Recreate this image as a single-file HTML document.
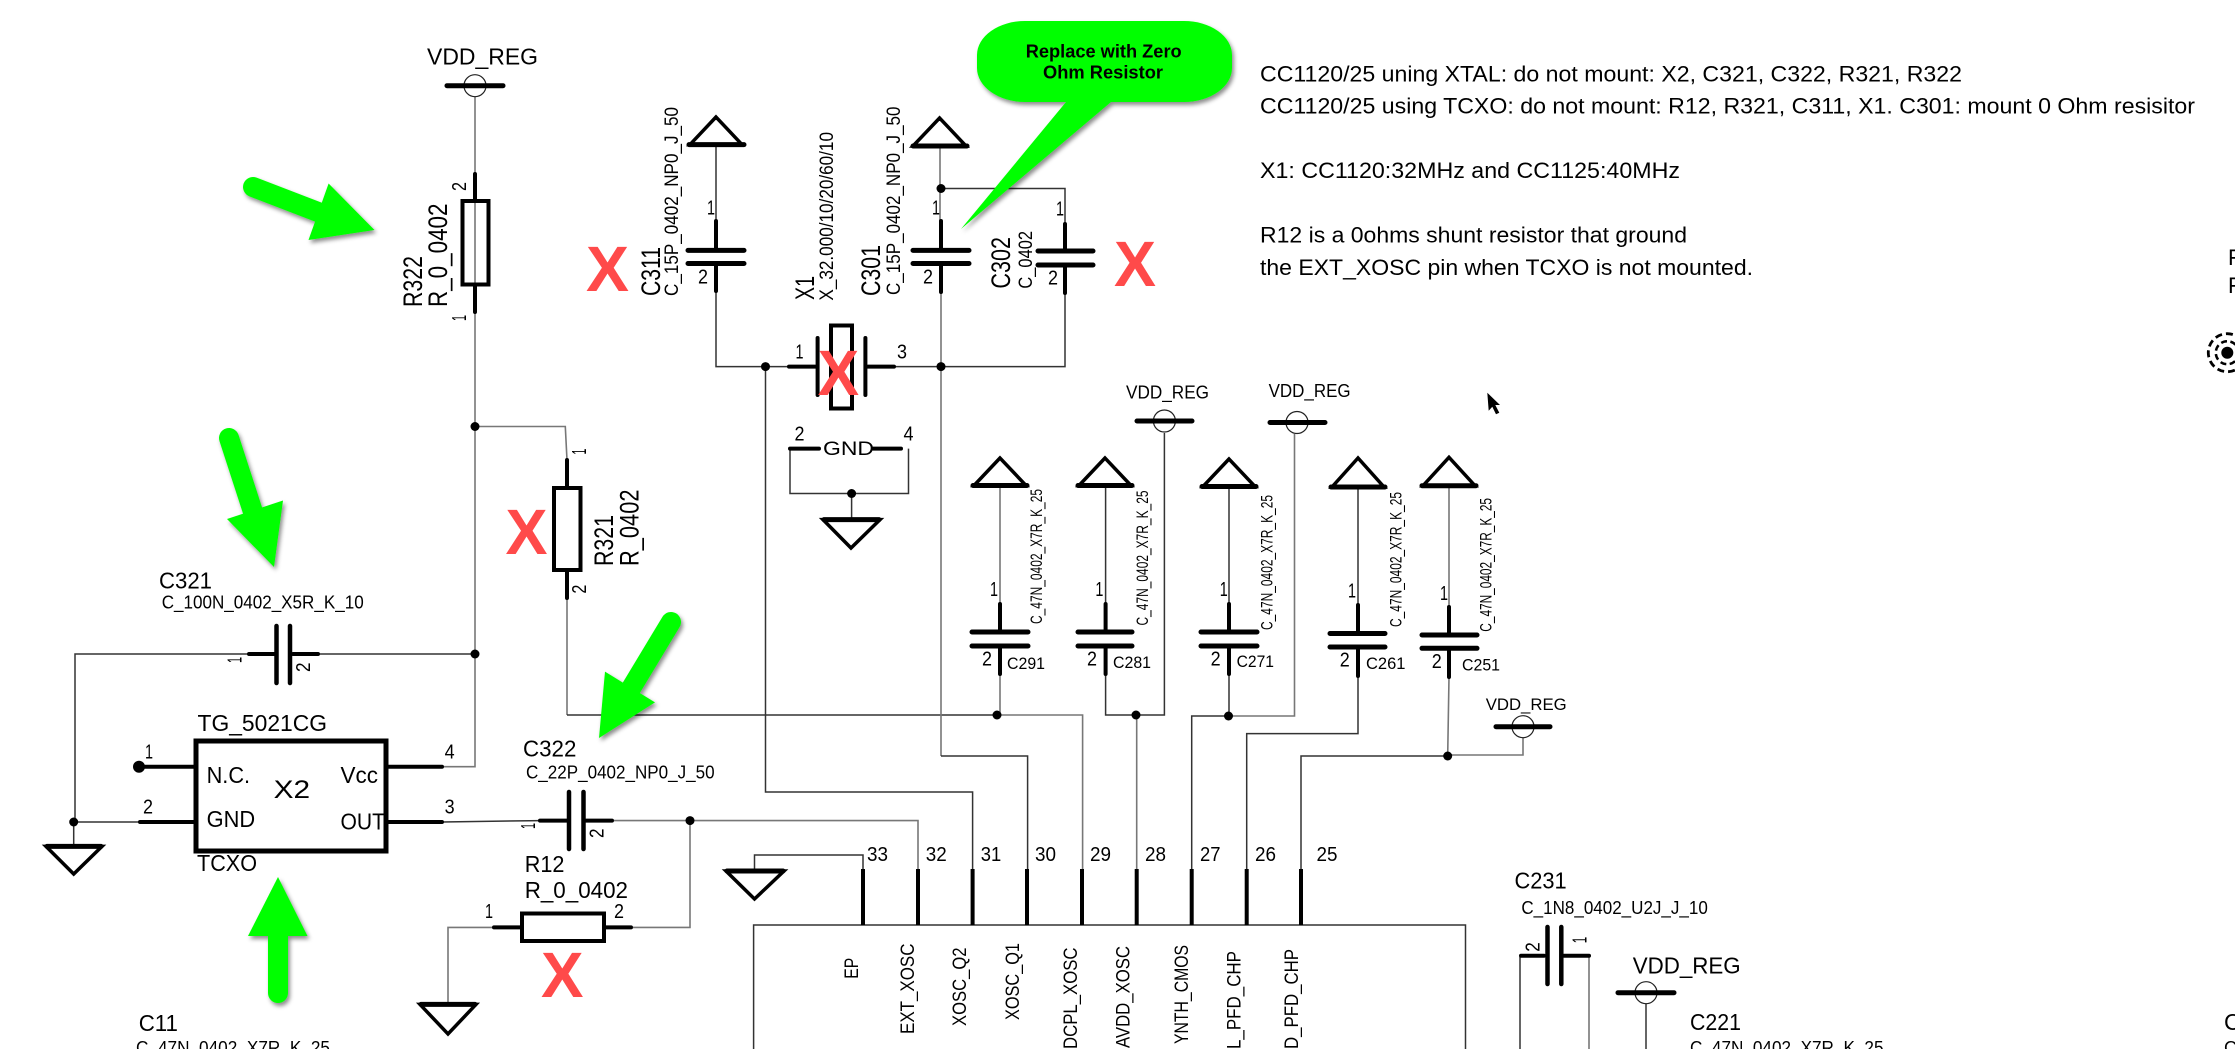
<!DOCTYPE html>
<html><head><meta charset="utf-8"><style>
html,body{margin:0;padding:0;background:#fff;width:2235px;height:1049px;overflow:hidden}
svg{display:block}
text{font-family:"Liberation Sans",Arial,sans-serif;fill:#000}
.w{stroke:#333;stroke-width:1.5;fill:none}
.g{stroke:#777;stroke-width:1.6;fill:none}
.t{stroke:#000;stroke-width:4;fill:none;stroke-linecap:round}
.p{stroke:#000;stroke-width:5;fill:none;stroke-linecap:round}
.s{stroke:#000;stroke-width:3.5;fill:none;stroke-linejoin:miter}
.o{stroke:#222;stroke-width:1.2;fill:none}
.x text{font-weight:bold;font-size:64px;fill:#ff4a4a}
.n{font-size:20px}
.m{font-size:19.5px}
.l{font-size:27px}
</style></head><body>
<svg width="2235" height="1049" viewBox="0 0 2235 1049" xmlns="http://www.w3.org/2000/svg" style="overflow:hidden">
<rect width="2235" height="1049" fill="#fff"/>

<!-- wires -->
<path class="g" d="M475 97V766.7H442"/>
<path class="g" d="M475 426.5H565.3L567 460"/>
<path class="w" d="M475 654H318M248 654H75V822"/>
<path class="w" d="M139 822H73.7V846M442 822L540 820.6"/>
<path class="g" d="M612 820.6H918V869"/>
<path class="g" d="M690 820.6V927.4H632"/>
<path class="g" d="M493 927.4H448V1004"/>
<path class="g" d="M567 599V715"/>
<path class="w" d="M567 715H997"/>
<path class="g" d="M997 715H1082.6V869"/>
<path class="w" d="M716 145V221M716 291V366.6H817M868 366.6H1065V293M1065 223.6V188.5H941"/>
<path class="g" d="M940 146V221M941 292V756"/>
<path class="w" d="M941 756H1027.6V869"/>
<path class="w" d="M765.5 366.6V792H972.6V869"/>
<path class="w" d="M790 448.6V493.5H908.5V448.6M851.6 493.5V519"/>
<path class="g" d="M1000 486V604M1000 674V715"/>
<path class="w" d="M1105.6 486V604M1105.6 674V715H1164.4V433"/>
<path class="g" d="M1136.7 715V869"/>
<path class="w" d="M1229 487V604M1229 674V716"/>
<path class="w" d="M1229 716H1191.7V869"/>
<path class="g" d="M1229 716H1294.5V434"/>
<path class="w" d="M1358 488V605M1358 676V733.6H1246.7V869"/>
<path class="g" d="M1449 486V607M1449 677L1447.7 755"/>
<path class="w" d="M1447.7 756H1301V869"/>
<path class="g" d="M1447.7 755H1523V738"/>
<path class="w" d="M863 869V855H754.5V871"/>
<path class="w" d="M753.6 1049V925H1465.5V1049"/>
<path class="w" d="M1520 957V1049"/>
<path class="g" d="M1589 957V1049"/>
<path class="w" d="M1646 1004V1049"/>

<!-- junction dots -->
<g fill="#000">
<circle cx="475" cy="426.5" r="4.5"/><circle cx="475" cy="654" r="4.5"/><circle cx="73.7" cy="822" r="4.5"/>
<circle cx="139" cy="766.7" r="6"/><circle cx="690" cy="820.6" r="4.5"/><circle cx="765.5" cy="366.6" r="4.5"/>
<circle cx="941" cy="366.6" r="4.5"/><circle cx="941" cy="188.5" r="4.5"/><circle cx="851.6" cy="493.5" r="4.5"/>
<circle cx="997" cy="715" r="4.5"/><circle cx="1136" cy="715" r="4.5"/><circle cx="1228.5" cy="716" r="4.5"/>
<circle cx="1447.7" cy="756" r="4.5"/>
</g>

<!-- power symbols -->
<g class="o"><circle cx="475" cy="85.7" r="11"/><circle cx="1164.4" cy="421" r="11"/><circle cx="1297" cy="422.5" r="11"/><circle cx="1523" cy="726.7" r="11"/><circle cx="1646" cy="992.7" r="11"/></g>
<path class="p" d="M447 85.7H503M1137 421H1192M1270 422.5H1325M1496 726.7H1550M1618 992.7H1674"/>

<!-- ground / triangles -->
<path class="s" d="M716 117L690 144.6H742ZM939.6 118L913 146H966ZM1000 458L974 485.5H1026ZM1105 458L1079 485.5H1131ZM1229 459L1203 486.5H1255ZM1358 458L1332 487H1384ZM1449 457.3L1423 485.7H1475Z" stroke-linejoin="round"/>
<path class="p" d="M689 144.6H744M913 146H967M973 485.5H1027M1078 485.5H1132M1202 486.5H1256M1331 487H1385M1422 485.7H1476"/>
<path class="s" d="M823 519.6H880L851 548ZM46 846.4H102L73.7 874ZM420 1004.4H476L448 1034ZM726 871H784L754.5 899Z"/>
<path class="p" d="M824 519.6H879M47 846.4H101M421 1004.4H475M727 871H783"/>

<!-- R322 -->
<rect x="462.5" y="201" width="26" height="83.5" fill="none" stroke="#000" stroke-width="4"/>
<path class="t" d="M475 174V201M475 285V312"/>
<!-- R321 -->
<rect x="554" y="488" width="26.5" height="82" fill="none" stroke="#000" stroke-width="4"/>
<path class="t" d="M567 460V488M567 572V598"/>
<!-- R12 -->
<rect x="522" y="913.5" width="82" height="27.5" fill="none" stroke="#000" stroke-width="4"/>
<path class="t" d="M494 927.4H521M605 927.4H631"/>

<!-- vertical capacitors -->
<path class="t" d="M716 221V250M716 264V291M941 221V250M941 264V292M1065 224V251M1065 265V293M1000 604V632M1000 646V674M1105.6 604V632M1105.6 646V674M1229 604V632M1229 646V674M1358 605V633M1358 647V676M1449 607V635M1449 649V677"/>
<path class="p" d="M688 250.4H744M688 263.5H744M913 250.4H969M913 263.5H969M1038 251H1093M1038 265H1093M972 632H1028M972 646H1028M1078 632H1132M1078 646H1132M1201 632H1257M1201 646H1257M1330 633.5H1385M1330 647H1385M1422 635H1477M1422 648.3H1477"/>

<!-- horizontal capacitors -->
<path class="t" d="M249 654H275M293 654H318M540 820.6H567M586 820.6H612M1521 955.7H1544M1564 955.7H1589"/>
<path class="t" d="M276.5 626V683M290 626V683M569 792V849M583.5 792V849M1547.5 927V984M1561.3 927V984" style="stroke-width:4.5"/>

<!-- crystal -->
<path class="t" d="M789 366.6H815M868 366.6H894M817.6 338V395M865.4 338V395"/>
<rect x="831" y="325.5" width="21" height="83" fill="none" stroke="#000" stroke-width="4"/>
<path class="t" d="M790 448.6H819M873 448.6H901"/>

<!-- TCXO -->
<text x="197" y="871" font-size="23" textLength="60" lengthAdjust="spacingAndGlyphs">TCXO</text>
<rect x="196" y="741" width="190" height="110" fill="none" stroke="#000" stroke-width="5"/>
<path class="t" d="M145 766.7H195M388 766.7H442M140 822H195M388 822H442"/>

<!-- IC pins -->
<path d="M863 869V925M918 869V925M972.6 869V925M1027 869V925M1082 869V925M1136.7 869V925M1191.7 869V925M1246.7 869V925M1301 869V925" stroke="#000" stroke-width="4" fill="none"/>

<!-- horizontal labels -->
<text x="427" y="64.3" font-size="23" textLength="111" lengthAdjust="spacingAndGlyphs">VDD_REG</text>
<text x="1126" y="398.4" font-size="18" textLength="83" lengthAdjust="spacingAndGlyphs">VDD_REG</text>
<text x="1268.6" y="396.8" font-size="18" textLength="82" lengthAdjust="spacingAndGlyphs">VDD_REG</text>
<text x="1485.7" y="710" font-size="17" textLength="81" lengthAdjust="spacingAndGlyphs">VDD_REG</text>
<text x="1632.7" y="973.3" font-size="23" textLength="108" lengthAdjust="spacingAndGlyphs">VDD_REG</text>

<text x="159" y="588.6" font-size="23" textLength="53" lengthAdjust="spacingAndGlyphs">C321</text>
<text x="161.7" y="608.7" font-size="18" textLength="202" lengthAdjust="spacingAndGlyphs">C_100N_0402_X5R_K_10</text>
<text x="197.5" y="731" font-size="23" textLength="129.5" lengthAdjust="spacingAndGlyphs">TG_5021CG</text>
<text x="206.6" y="783" font-size="23" textLength="43.5" lengthAdjust="spacingAndGlyphs">N.C.</text>
<text x="206.6" y="827" font-size="23" textLength="48.5" lengthAdjust="spacingAndGlyphs">GND</text>
<text x="273.6" y="798" font-size="25" textLength="36.5" lengthAdjust="spacingAndGlyphs">X2</text>
<text x="340.5" y="783" font-size="23" textLength="37.5" lengthAdjust="spacingAndGlyphs">Vcc</text>
<text x="340.5" y="829.7" font-size="23" textLength="44.5" lengthAdjust="spacingAndGlyphs">OUT</text>
<text x="523" y="756.7" font-size="23" textLength="53.4" lengthAdjust="spacingAndGlyphs">C322</text>
<text x="526" y="778.4" font-size="18" textLength="188.6" lengthAdjust="spacingAndGlyphs">C_22P_0402_NP0_J_50</text>
<text x="524.7" y="872" font-size="23" textLength="39.7" lengthAdjust="spacingAndGlyphs">R12</text>
<text x="524.7" y="898" font-size="23" textLength="103.3" lengthAdjust="spacingAndGlyphs">R_0_0402</text>
<text x="138.7" y="1031" font-size="23" textLength="39.3" lengthAdjust="spacingAndGlyphs">C11</text>
<text x="136" y="1054" font-size="18" textLength="194" lengthAdjust="spacingAndGlyphs">C_47N_0402_X7R_K_25</text>
<text x="1514.5" y="888.3" font-size="23" textLength="52.2" lengthAdjust="spacingAndGlyphs">C231</text>
<text x="1521.4" y="914" font-size="18" textLength="186.4" lengthAdjust="spacingAndGlyphs">C_1N8_0402_U2J_J_10</text>
<text x="1690" y="1030" font-size="23" textLength="51" lengthAdjust="spacingAndGlyphs">C221</text>
<text x="1690" y="1054" font-size="18" textLength="193.5" lengthAdjust="spacingAndGlyphs">C_47N_0402_X7R_K_25</text>
<text x="2224" y="1030" font-size="23">C</text>
<text x="2224" y="1054" font-size="18">C</text>
<text x="823" y="455" font-size="19" textLength="51" lengthAdjust="spacingAndGlyphs">GND</text>
<text x="1007" y="669" font-size="17" textLength="38" lengthAdjust="spacingAndGlyphs">C291</text>
<text x="1113" y="668" font-size="17" textLength="38" lengthAdjust="spacingAndGlyphs">C281</text>
<text x="1236.6" y="667" font-size="17" textLength="37.4" lengthAdjust="spacingAndGlyphs">C271</text>
<text x="1366" y="669" font-size="17" textLength="39.5" lengthAdjust="spacingAndGlyphs">C261</text>
<text x="1462" y="670.7" font-size="17" textLength="38" lengthAdjust="spacingAndGlyphs">C251</text>

<!-- pin numbers -->
<g class="n">
<text x="707" y="214.5" textLength="8" lengthAdjust="spacingAndGlyphs">1</text>
<text x="698" y="283.5" textLength="10" lengthAdjust="spacingAndGlyphs">2</text>
<text x="932" y="214.5" textLength="8" lengthAdjust="spacingAndGlyphs">1</text>
<text x="923" y="283.5" textLength="10" lengthAdjust="spacingAndGlyphs">2</text>
<text x="1056" y="215.5" textLength="8" lengthAdjust="spacingAndGlyphs">1</text>
<text x="1048" y="284.5" textLength="10" lengthAdjust="spacingAndGlyphs">2</text>
<text x="795.5" y="358.5" textLength="8" lengthAdjust="spacingAndGlyphs">1</text>
<text x="897" y="358.5" textLength="10" lengthAdjust="spacingAndGlyphs">3</text>
<text x="794.5" y="440.5" textLength="10" lengthAdjust="spacingAndGlyphs">2</text>
<text x="903.5" y="440.5" textLength="10" lengthAdjust="spacingAndGlyphs">4</text>
<text x="990" y="596" textLength="8" lengthAdjust="spacingAndGlyphs">1</text>
<text x="982" y="665.5" textLength="10" lengthAdjust="spacingAndGlyphs">2</text>
<text x="1095.4" y="596" textLength="8" lengthAdjust="spacingAndGlyphs">1</text>
<text x="1087" y="665.5" textLength="10" lengthAdjust="spacingAndGlyphs">2</text>
<text x="1219.7" y="596" textLength="8" lengthAdjust="spacingAndGlyphs">1</text>
<text x="1210.6" y="665.5" textLength="10" lengthAdjust="spacingAndGlyphs">2</text>
<text x="1348" y="597.5" textLength="8" lengthAdjust="spacingAndGlyphs">1</text>
<text x="1339.8" y="666.5" textLength="10" lengthAdjust="spacingAndGlyphs">2</text>
<text x="1440" y="600" textLength="8" lengthAdjust="spacingAndGlyphs">1</text>
<text x="1431.7" y="668" textLength="10" lengthAdjust="spacingAndGlyphs">2</text>
<text x="145" y="758.7" textLength="8" lengthAdjust="spacingAndGlyphs">1</text>
<text x="143" y="813.6" textLength="10" lengthAdjust="spacingAndGlyphs">2</text>
<text x="444.6" y="758.7" textLength="10" lengthAdjust="spacingAndGlyphs">4</text>
<text x="444.6" y="813.6" textLength="10" lengthAdjust="spacingAndGlyphs">3</text>
<text x="485" y="918" textLength="8" lengthAdjust="spacingAndGlyphs">1</text>
<text x="614" y="918" textLength="10" lengthAdjust="spacingAndGlyphs">2</text>
<text x="867" y="861" textLength="21" lengthAdjust="spacingAndGlyphs">33</text>
<text x="925.8" y="861" textLength="21" lengthAdjust="spacingAndGlyphs">32</text>
<text x="980.8" y="861" textLength="20.5" lengthAdjust="spacingAndGlyphs">31</text>
<text x="1035" y="861" textLength="21" lengthAdjust="spacingAndGlyphs">30</text>
<text x="1090" y="861" textLength="21" lengthAdjust="spacingAndGlyphs">29</text>
<text x="1145" y="861" textLength="21" lengthAdjust="spacingAndGlyphs">28</text>
<text x="1200" y="861" textLength="20.5" lengthAdjust="spacingAndGlyphs">27</text>
<text x="1255" y="861" textLength="21" lengthAdjust="spacingAndGlyphs">26</text>
<text x="1316.5" y="861" textLength="21" lengthAdjust="spacingAndGlyphs">25</text>
</g>

<!-- rotated numbers -->
<g class="n">
<text transform="translate(466,191) rotate(-90)" textLength="9" lengthAdjust="spacingAndGlyphs">2</text>
<text transform="translate(466,321) rotate(-90)" textLength="6" lengthAdjust="spacingAndGlyphs">1</text>
<text transform="translate(586,454.6) rotate(-90)" textLength="6" lengthAdjust="spacingAndGlyphs">1</text>
<text transform="translate(586,593.6) rotate(-90)" textLength="9" lengthAdjust="spacingAndGlyphs">2</text>
<text transform="translate(241.5,663) rotate(-90)" textLength="6" lengthAdjust="spacingAndGlyphs">1</text>
<text transform="translate(310,672) rotate(-90)" textLength="9.5" lengthAdjust="spacingAndGlyphs">2</text>
<text transform="translate(535,829) rotate(-90)" textLength="6" lengthAdjust="spacingAndGlyphs">1</text>
<text transform="translate(603.6,838) rotate(-90)" textLength="9.5" lengthAdjust="spacingAndGlyphs">2</text>
<text transform="translate(1539.5,951.7) rotate(-90)" textLength="9.5" lengthAdjust="spacingAndGlyphs">2</text>
<text transform="translate(1586.4,943.3) rotate(-90)" textLength="6.5" lengthAdjust="spacingAndGlyphs">1</text>
</g>

<!-- rotated labels -->
<g class="l">
<text transform="translate(422,307) rotate(-90)" textLength="51" lengthAdjust="spacingAndGlyphs">R322</text>
<text transform="translate(447,307) rotate(-90)" textLength="103.5" lengthAdjust="spacingAndGlyphs">R_0_0402</text>
<text transform="translate(613,566) rotate(-90)" textLength="51" lengthAdjust="spacingAndGlyphs">R321</text>
<text transform="translate(638.5,566) rotate(-90)" textLength="76.5" lengthAdjust="spacingAndGlyphs">R_0402</text>
<text transform="translate(660,296) rotate(-90)" textLength="49" lengthAdjust="spacingAndGlyphs">C311</text>
<text transform="translate(814,300) rotate(-90)" textLength="24" lengthAdjust="spacingAndGlyphs">X1</text>
<text transform="translate(880,296) rotate(-90)" textLength="51" lengthAdjust="spacingAndGlyphs">C301</text>
<text transform="translate(1010,288.6) rotate(-90)" textLength="51.6" lengthAdjust="spacingAndGlyphs">C302</text>
</g>
<g class="m">
<text transform="translate(678,296) rotate(-90)" textLength="189" lengthAdjust="spacingAndGlyphs">C_15P_0402_NP0_J_50</text>
<text transform="translate(833,300.6) rotate(-90)" textLength="168.6" lengthAdjust="spacingAndGlyphs">X_32.000/10/20/60/10</text>
<text transform="translate(900,295) rotate(-90)" textLength="188.5" lengthAdjust="spacingAndGlyphs">C_15P_0402_NP0_J_50</text>
<text transform="translate(1032,288.6) rotate(-90)" textLength="57.6" lengthAdjust="spacingAndGlyphs">C_0402</text>
<text transform="translate(858,978.7) rotate(-90)" textLength="21" lengthAdjust="spacingAndGlyphs">EP</text>
<text transform="translate(913.8,1034) rotate(-90)" textLength="90.5" lengthAdjust="spacingAndGlyphs">EXT_XOSC</text>
<text transform="translate(966,1026) rotate(-90)" textLength="78.5" lengthAdjust="spacingAndGlyphs">XOSC_Q2</text>
<text transform="translate(1019,1020) rotate(-90)" textLength="77" lengthAdjust="spacingAndGlyphs">XOSC_Q1</text>
<text transform="translate(1077,1049) rotate(-90)" textLength="101.5" lengthAdjust="spacingAndGlyphs">DCPL_XOSC</text>
<text transform="translate(1129.5,1048) rotate(-90)" textLength="102" lengthAdjust="spacingAndGlyphs">AVDD_XOSC</text>
<text transform="translate(1188,1044) rotate(-90)" textLength="99" lengthAdjust="spacingAndGlyphs">YNTH_CMOS</text>
<text transform="translate(1240.5,1049) rotate(-90)" textLength="98" lengthAdjust="spacingAndGlyphs">L_PFD_CHP</text>
<text transform="translate(1297.8,1049) rotate(-90)" textLength="100" lengthAdjust="spacingAndGlyphs">D_PFD_CHP</text>
</g>
<g font-size="17">
<text transform="translate(1042,624) rotate(-90)" font-size="17" textLength="135" lengthAdjust="spacingAndGlyphs">C_47N_0402_X7R_K_25</text>
<text transform="translate(1148,625.5) rotate(-90)" font-size="17" textLength="135" lengthAdjust="spacingAndGlyphs">C_47N_0402_X7R_K_25</text>
<text transform="translate(1272.5,630) rotate(-90)" font-size="17" textLength="135" lengthAdjust="spacingAndGlyphs">C_47N_0402_X7R_K_25</text>
<text transform="translate(1401.6,627) rotate(-90)" font-size="17" textLength="135" lengthAdjust="spacingAndGlyphs">C_47N_0402_X7R_K_25</text>
<text transform="translate(1491.7,631.7) rotate(-90)" font-size="17" textLength="133.7" lengthAdjust="spacingAndGlyphs">C_47N_0402_X7R_K_25</text>
</g>

<!-- notes -->
<g font-size="22">
<text x="1260" y="81.7" textLength="702" lengthAdjust="spacingAndGlyphs">CC1120/25 uning XTAL: do not mount: X2, C321, C322, R321, R322</text>
<text x="1260" y="113.3" textLength="935" lengthAdjust="spacingAndGlyphs">CC1120/25 using TCXO: do not mount: R12, R321, C311, X1. C301: mount 0 Ohm resisitor</text>
<text x="1260" y="178" textLength="420" lengthAdjust="spacingAndGlyphs">X1: CC1120:32MHz and CC1125:40MHz</text>
<text x="1260" y="242.7" textLength="427" lengthAdjust="spacingAndGlyphs">R12 is a 0ohms shunt resistor that ground</text>
<text x="1260" y="275" textLength="493" lengthAdjust="spacingAndGlyphs">the EXT_XOSC pin when TCXO is not mounted.</text>
<text x="2228" y="265">F</text>
<text x="2228" y="293">F</text>
</g>

<!-- right-edge target -->
<circle cx="2227.3" cy="352.7" r="19" fill="none" stroke="#000" stroke-width="2.8" stroke-dasharray="7 4"/>
<circle cx="2227.3" cy="352.7" r="11.5" fill="none" stroke="#000" stroke-width="2.5" stroke-dasharray="6 3.5"/>
<circle cx="2227.3" cy="352.7" r="6" fill="#000"/>

<!-- cursor -->
<polygon points="1487.3,392.7 1500,405 1495.3,405 1499.3,412.7 1496,414.3 1492.3,406.7 1488.7,410.7" fill="#000"/>

<!-- green annotations -->
<defs><filter id="sh" x="-20%" y="-20%" width="140%" height="140%"><feDropShadow dx="2" dy="3" stdDeviation="2" flood-color="#000" flood-opacity=".45"/></filter></defs>
<g fill="#00ff00" filter="url(#sh)">
<path d="M1025 21H1184A48 34 0 0 1 1232 55V68A48 34 0 0 1 1184 102H1111L961 229L1066 102H1025A48 34 0 0 1 977 68V55A48 34 0 0 1 1025 21Z"/>
</g>
<g filter="url(#sh)">
<g stroke="#00ff00" stroke-width="20" stroke-linecap="round" fill="none">
<path d="M253 187L318 212"/>
<path d="M229 438L254 515"/>
<path d="M671 622L630 690"/>
<path d="M278 993V930"/>
</g>
<g fill="#00ff00">
<polygon points="328.6,183.5 374.5,230 308.5,240"/>
<polygon points="283,500.5 274,567 227,519"/>
<polygon points="605,671.6 655,702.4 599,738"/>
<polygon points="278,877 307.5,936 248,936"/>
</g>
</g>
<g font-weight="bold" font-size="18.5">
<text x="1025.7" y="57.6" textLength="156" lengthAdjust="spacingAndGlyphs">Replace with Zero</text>
<text x="1043" y="78.7" textLength="120" lengthAdjust="spacingAndGlyphs">Ohm Resistor</text>
</g>

<!-- red X marks -->
<g class="x">
<text x="586" y="291" textLength="43" lengthAdjust="spacingAndGlyphs">X</text>
<text x="1114" y="286" textLength="42" lengthAdjust="spacingAndGlyphs">X</text>
<text x="505.5" y="554" textLength="42" lengthAdjust="spacingAndGlyphs">X</text>
<text x="541" y="997" textLength="42.5" lengthAdjust="spacingAndGlyphs">X</text>
<text x="817.6" y="395" textLength="41.5" lengthAdjust="spacingAndGlyphs">X</text>
</g>
</svg>
</body></html>
